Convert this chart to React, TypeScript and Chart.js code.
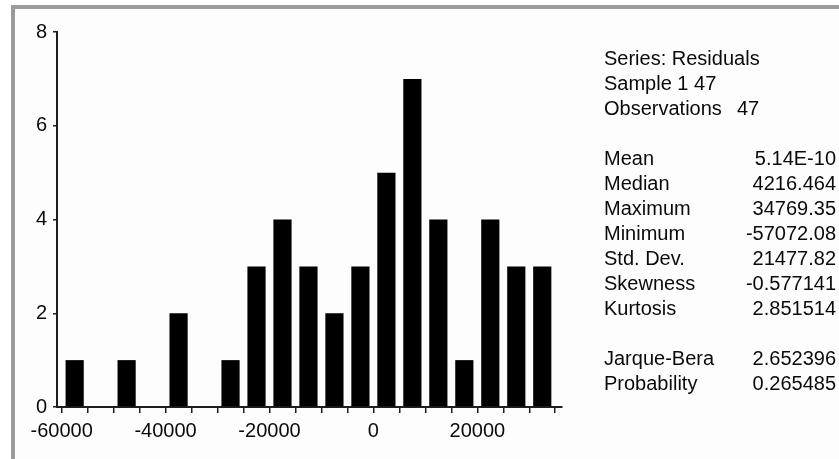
import React, { useEffect, useRef } from "react";
import { Chart, registerables } from "chart.js";

Chart.register(...registerables);

// Histogram bins (width 5000) — centers and counts
const binCenters = [
  -57500, -52500, -47500, -42500, -37500, -32500, -27500, -22500, -17500, -12500,
  -7500, -2500, 2500, 7500, 12500, 17500, 22500, 27500, 32500,
];
const counts = [1, 0, 1, 0, 2, 0, 1, 3, 4, 3, 2, 3, 5, 7, 4, 1, 4, 3, 3];

const xTickValues = [
  -60000, -55000, -50000, -45000, -40000, -35000, -30000, -25000, -20000, -15000,
  -10000, -5000, 0, 5000, 10000, 15000, 20000, 25000, 30000, 35000,
];
const xTickLabels = [
  "-60000", "", "", "", "-40000", "", "", "", "-20000", "", "", "", "0", "", "", "",
  "20000", "", "", "",
];
const yTickValues = [0, 2, 4, 6, 8];
const yTickLabels = ["0", "2", "4", "6", "8"];

const headerLabels = ["Series: Residuals", "Sample 1 47", "Observations"];
const headerValues = ["", "", "47"];
const statLabels = ["Mean", "Median", "Maximum", "Minimum", "Std. Dev.", "Skewness", "Kurtosis"];
const statValues = ["5.14E-10", "4216.464", "34769.35", "-57072.08", "21477.82", "-0.577141", "2.851514"];
const testLabels = ["Jarque-Bera", "Probability"];
const testValues = ["2.652396", "0.265485"];

const FONT = "'Liberation Sans', Arial, Helvetica, sans-serif";
const AXIS_COLOR = "#1e1e1e";
const TEXT_COLOR = "#0a0a0a";

const framePlugin = {
  id: "frame",
  beforeDraw(chart: any) {
    const ctx = chart.ctx;
    const w = chart.width;
    const h = chart.height;
    ctx.save();
    ctx.fillStyle = "#ffffff";
    ctx.fillRect(0, 0, w, h);
    ctx.fillStyle = "#fdfdfd";
    ctx.fillRect(15, 9, w - 15, h - 9);
    ctx.fillStyle = "#9b9b9b";
    ctx.fillRect(11, 5, w - 11, 4);
    ctx.fillRect(11, 5, 4, h - 5);
    ctx.restore();
  },
};

const statsPlugin = {
  id: "stats",
  afterDraw(chart: any) {
    const ctx = chart.ctx;
    ctx.save();
    ctx.font = `20px ${FONT}`;
    ctx.fillStyle = TEXT_COLOR;
    ctx.textBaseline = "alphabetic";
    const labelX = 604;
    const valueRight = 836;
    const step = 25;
    let y = 65;
    headerLabels.forEach((lab, i) => {
      ctx.textAlign = "left";
      ctx.fillText(lab, labelX, y);
      if (headerValues[i]) ctx.fillText(headerValues[i], 737, y);
      y += step;
    });
    y += step;
    statLabels.forEach((lab, i) => {
      ctx.textAlign = "left";
      ctx.fillText(lab, labelX, y);
      ctx.textAlign = "right";
      ctx.fillText(statValues[i], valueRight, y);
      y += step;
    });
    y += step;
    testLabels.forEach((lab, i) => {
      ctx.textAlign = "left";
      ctx.fillText(lab, labelX, y);
      ctx.textAlign = "right";
      ctx.fillText(testValues[i], valueRight, y);
      y += step;
    });
    ctx.restore();
  },
};

export default function App() {
  const ref = useRef<HTMLCanvasElement | null>(null);

  useEffect(() => {
    if (!ref.current) return;
    const chart = new Chart(ref.current, {
      type: "bar",
      data: {
        datasets: [
          {
            data: binCenters.map((x, i) => ({ x, y: counts[i] })),
            backgroundColor: "#000000",
            borderWidth: 0,
            barPercentage: 0.7,
            categoryPercentage: 1.0,
          } as any,
        ],
      },
      options: {
        responsive: false,
        animation: false,
        events: [],
        layout: { padding: { left: 0, top: 32, right: 277, bottom: 0 } },
        plugins: {
          legend: { display: false },
          tooltip: { enabled: false },
          title: { display: false },
        },
        scales: {
          x: {
            type: "linear",
            min: -60900,
            max: 36300,
            offset: false,
            afterFit: (scale: any) => {
              scale.height = 52;
            },
            afterBuildTicks: (scale: any) => {
              scale.ticks = xTickValues.map((v) => ({ value: v }));
            },
            ticks: {
              autoSkip: false,
              maxRotation: 0,
              minRotation: 0,
              padding: 6,
              color: TEXT_COLOR,
              font: { family: FONT, size: 20 },
              callback: (value: any) => {
                const i = xTickValues.indexOf(Number(value));
                return i >= 0 ? xTickLabels[i] : "";
              },
            },
            grid: {
              display: true,
              drawOnChartArea: false,
              drawTicks: true,
              tickLength: 6,
              offset: false,
              color: AXIS_COLOR,
              lineWidth: 1.5,
            },
            border: { display: true, color: AXIS_COLOR, width: 2 },
          },
          y: {
            type: "linear",
            min: 0,
            max: 8,
            afterFit: (scale: any) => {
              scale.width = 57;
            },
            afterBuildTicks: (scale: any) => {
              scale.ticks = yTickValues.map((v) => ({ value: v }));
            },
            ticks: {
              padding: 6,
              color: TEXT_COLOR,
              font: { family: FONT, size: 20 },
              callback: (value: any) => {
                const i = yTickValues.indexOf(Number(value));
                return i >= 0 ? yTickLabels[i] : "";
              },
            },
            grid: {
              display: true,
              drawOnChartArea: false,
              drawTicks: true,
              tickLength: 4,
              color: AXIS_COLOR,
              lineWidth: 1.5,
            },
            border: { display: true, color: AXIS_COLOR, width: 2 },
          },
        },
      } as any,
      plugins: [framePlugin, statsPlugin],
    });
    return () => chart.destroy();
  }, []);

  return (
    <div style={{ position: "fixed", left: 0, top: 0, width: 839, height: 459 }}>
      <canvas ref={ref} width={839} height={459} style={{ display: "block", width: 839, height: 459 }} />
    </div>
  );
}
